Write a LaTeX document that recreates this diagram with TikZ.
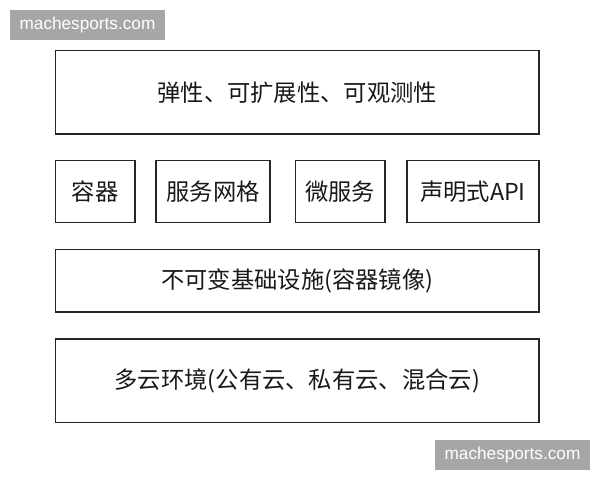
\documentclass[tikz,border=0pt]{standalone}
\usepackage{fontspec}
\setmainfont{Liberation Sans}
\newfontfamily\cjk{Noto Sans CJK SC}
\begin{document}
\begin{tikzpicture}[x=1pt,y=-1pt,
  layerbox/.style={draw=black!85,line width=1.4pt,fill=white},
  boxtext/.style={font=\cjk\fontsize{23.3}{26}\selectfont,text=black!90},
  wmark/.style={fill=black!35,text=white,font=\fontsize{17.2}{19}\selectfont,inner sep=0pt}]
\useasboundingbox (0,0) rectangle (600,480);
\fill[white] (0,0) rectangle (600,480);
% watermarks
\node[wmark,minimum width=155pt,minimum height=30pt] (w1) at (87.5,25) {machesports.com};
\node[wmark,minimum width=155pt,minimum height=30pt] (w2) at (512.5,455) {machesports.com};
% top layer
\draw[layerbox] (55.5,50.5) rectangle (539,134) node[midway,boxtext] (top) {弹性、可扩展性、可观测性};
% middle boxes
\draw[layerbox] (55.5,160.5) rectangle (135,222.5) node[midway,boxtext] (c1) {容器};
\draw[layerbox] (156,160.5) rectangle (270,222.5) node[midway,boxtext] (c2) {服务网格};
\draw[layerbox] (295.5,160.5) rectangle (385,222.5) node[midway,boxtext] (c3) {微服务};
\draw[layerbox] (407,160.5) rectangle (539,222.5) node[midway,boxtext] (c4) {声明式API};
% infrastructure
\draw[layerbox] (55.5,249.5) rectangle (539,312) node[midway,boxtext] (infra) {不可变基础设施(容器镜像)};
% multi cloud
\draw[layerbox] (55.5,339) rectangle (539,422.5) node[midway,boxtext] (cloud) {多云环境(公有云、私有云、混合云)};
\end{tikzpicture}
\end{document}
